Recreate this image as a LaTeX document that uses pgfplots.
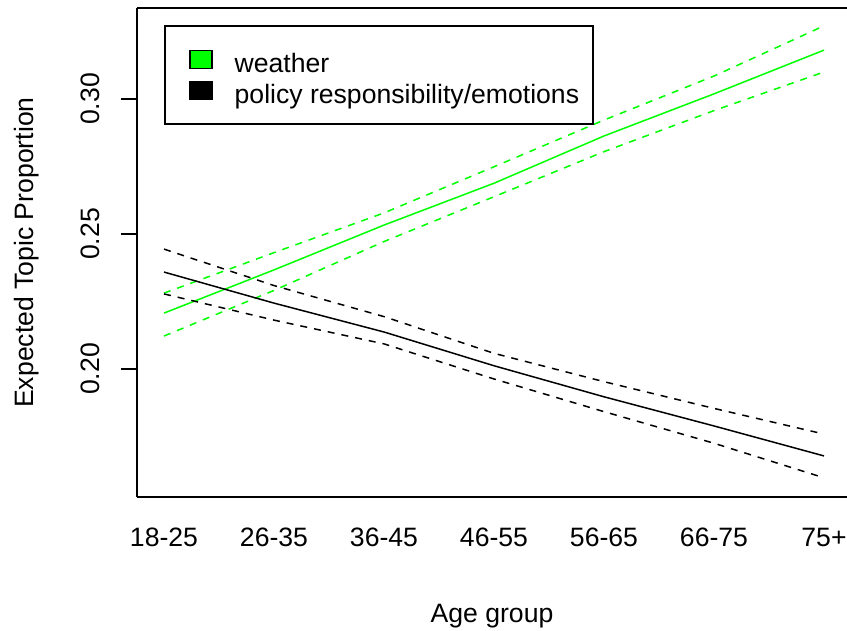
\documentclass[border=0pt]{standalone}
\usepackage{fontspec}
\setmainfont{Liberation Sans}
\usepackage{pgfplots}
\pgfplotsset{compat=1.18}
\definecolor{rgreen}{RGB}{0,255,0}
\begin{document}
\fontsize{13.3bp}{16bp}\selectfont
\begin{tikzpicture}
\begin{axis}[
  scale only axis, width=355bp, height=244.5bp,
  xmin=0.7545, xmax=7.209, ymin=0.15259, ymax=0.33370,
  axis y line*=left, axis x line*=box,
  axis line style={-, line width=1bp, black},
  xtick={1,2,3,4,5,6,7},
  xticklabels={18-25,26-35,36-45,46-55,56-65,66-75,75+},
  ytick={0.20,0.25,0.30}, yticklabels={0.20,0.25,0.30},
  tick align=outside, ytick pos=left, xtick pos=left,
  major tick length=8bp,
  xtick style={draw=none},
  ytick style={line width=1bp, black},
  xticklabel style={anchor=north, inner sep=0pt},
  xticklabel shift=7.2bp,
  yticklabel style={rotate=90, anchor=south, inner sep=0pt},
  yticklabel shift=10.5bp,
  xlabel={Age group}, ylabel={Expected Topic Proportion},
  xlabel style={at={(axis description cs:0.5,-0.2434)}, anchor=center, inner sep=0pt},
  ylabel style={at={(axis description cs:-0.1549,0.5)}, anchor=center, inner sep=0pt},
  legend image code/.code={\path (0bp,0bp); \draw[#1, line width=0.7bp] (5bp,2.2bp) rectangle (16bp,10.95bp);},
  legend style={at={(0.038,0.9652)}, anchor=north west, draw=black, line width=1bp,
    inner xsep=7bp, inner ysep=9.3bp, row sep=0pt, column sep=11bp,
    nodes={inner sep=0pt, text height=14bp, text depth=1.3bp, anchor=base west},
    cells={anchor=base west}},
  /pgf/number format/assume math mode=true,
]
\addlegendimage{fill=rgreen, draw=black}
\addlegendentry{weather}
\addlegendimage{fill=black, draw=black}
\addlegendentry{policy responsibility/emotions}

\addplot[rgreen, line width=0.75bp, forget plot] coordinates {(1,0.2207) (2,0.2367) (3,0.2533) (4,0.2688) (5,0.2863) (6,0.3019) (7,0.3181)};
\addplot[rgreen, line width=0.75bp, dash pattern=on 3.5bp off 3.5bp, forget plot] coordinates {(1,0.2281) (2,0.2431) (3,0.2578) (4,0.2749) (5,0.2922) (6,0.3085) (7,0.3271)};
\addplot[rgreen, line width=0.75bp, dash pattern=on 3.5bp off 3.5bp, forget plot] coordinates {(1,0.2122) (2,0.2291) (3,0.2472) (4,0.2638) (5,0.2805) (6,0.2957) (7,0.3100)};
\addplot[black, line width=0.75bp, forget plot] coordinates {(1,0.2359) (2,0.2244) (3,0.2137) (4,0.2012) (5,0.1897) (6,0.1789) (7,0.1678)};
\addplot[black, line width=0.75bp, dash pattern=on 3.5bp off 3.5bp, forget plot] coordinates {(1,0.2444) (2,0.2309) (3,0.2194) (4,0.2058) (5,0.1953) (6,0.1854) (7,0.1759)};
\addplot[black, line width=0.75bp, dash pattern=on 3.5bp off 3.5bp, forget plot] coordinates {(1,0.2278) (2,0.2181) (3,0.2093) (4,0.1963) (5,0.1842) (6,0.1725) (7,0.1597)};
\end{axis}
\pgfresetboundingbox
\useasboundingbox (-68.5bp,-67bp) rectangle (355bp,248.5bp);
\end{tikzpicture}
\end{document}
